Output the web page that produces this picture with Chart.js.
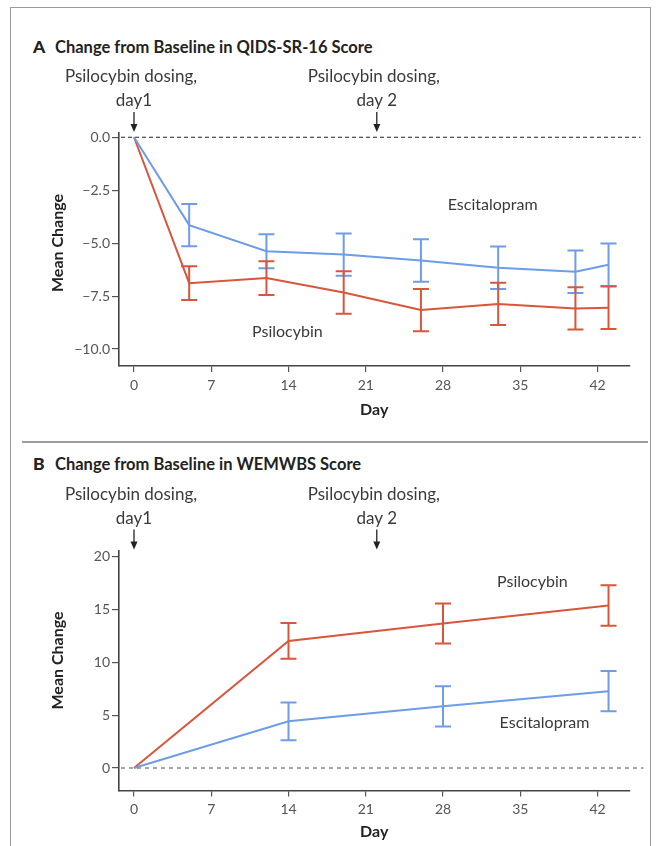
<!DOCTYPE html>
<html><head><meta charset="utf-8">
<script src="https://cdn.jsdelivr.net/npm/chart.js@4/dist/chart.umd.min.js"></script>
<style>
html,body{margin:0;padding:0;background:#fff;}
#wrap{position:relative;width:661px;height:846px;overflow:hidden;font-family:Lato,"Open Sans",sans-serif;color:#333;}
.frame{position:absolute;left:10px;top:7px;width:639px;height:900px;border:1.5px solid #9a9a9a;}
.sep{position:absolute;left:22px;top:441px;width:626px;height:2px;background:#9c9c9c;}
.ttl{position:absolute;left:33px;font-weight:bold;font-size:16.5px;color:#222;white-space:nowrap;line-height:20px;}
.ttl b{display:inline-block;width:22px;font-size:17.5px;}
canvas{position:absolute;left:0;}
</style></head>
<body><div id="wrap">
<div class="frame"></div>
<div class="sep"></div>
<div class="ttl" style="top:37px"><b>A</b>Change from Baseline in QIDS-SR-16 Score</div>
<div class="ttl" style="top:454px"><b>B</b>Change from Baseline in WEMWBS Score</div>
<canvas id="c1" width="661" height="440" style="top:0"></canvas>
<canvas id="c2" width="661" height="406" style="top:440px"></canvas>
</div>
<script>
// ---- Data ----
const dayTicks = [0, 7, 14, 21, 28, 35, 42];
const dosingDays = [0, 22];
const dosingLabel = ['Psilocybin dosing,'];
const dosingSub = ['day1', 'day 2'];

// Panel A: QIDS-SR-16
const qDays = [0, 5, 12, 19, 26, 33, 40, 43];
const qEsc = [0, -4.15, -5.38, -5.54, -5.82, -6.16, -6.35, -6.02];
const qEscErr = [0, 1.0, 0.8, 1.0, 1.0, 1.0, 1.0, 1.0];
const qPsi = [0, -6.89, -6.65, -7.33, -8.16, -7.87, -8.08, -8.05];
const qPsiErr = [0, 0.8, 0.8, 1.0, 1.0, 1.0, 1.0, 1.0];
const qTicks = [-10, -7.5, -5, -2.5, 0];

// Panel B: WEMWBS
const wDays = [0, 14, 28, 43];
const wPsi = [0, 12.04, 13.69, 15.39];
const wPsiErr = [0, 1.7, 1.9, 1.92];
const wEsc = [0, 4.42, 5.84, 7.28];
const wEscErr = [0, 1.78, 1.9, 1.9];
const wTicks = [0, 5, 10, 15, 20];

const RED = '#d9553b';
const BLUE = '#6d9ce8';
const FONT = 'Lato, "Open Sans", sans-serif';

const annot = {
  id: 'annot',
  beforeDatasetsDraw(chart, args, o) {
    const {ctx, chartArea, scales} = chart;
    const y0 = scales.y.getPixelForValue(0);
    ctx.save();
    ctx.strokeStyle = o.zeroColor;
    ctx.lineWidth = o.zeroWidth;
    ctx.setLineDash(o.zeroDash);
    ctx.beginPath();
    ctx.moveTo(chartArea.left + 2, y0);
    ctx.lineTo(chartArea.right + o.zeroExtend, y0);
    ctx.stroke();
    ctx.restore();
  },
  afterDatasetsDraw(chart, args, o) {
    const {ctx, chartArea, scales} = chart;
    const xs = scales.x, ys = scales.y;
    ctx.save();
    // error bars
    chart.data.datasets.forEach((ds, i) => {
      const err = o.errs[i];
      ctx.strokeStyle = ds.borderColor;
      ctx.lineWidth = 2;
      ds.data.forEach((p, j) => {
        if (!err[j]) return;
        const x = xs.getPixelForValue(p.x);
        const yt = ys.getPixelForValue(p.y + err[j]);
        const yb = ys.getPixelForValue(p.y - err[j]);
        ctx.beginPath();
        ctx.moveTo(x, yt); ctx.lineTo(x, yb);
        ctx.moveTo(x - 8, yt); ctx.lineTo(x + 8, yt);
        ctx.moveTo(x - 8, yb); ctx.lineTo(x + 8, yb);
        ctx.stroke();
      });
    });
    // dosing arrows
    ctx.strokeStyle = '#222';
    ctx.font = '17px ' + FONT;
    ctx.textAlign = 'center';
    ctx.textBaseline = 'middle';
    dosingDays.forEach((d, k) => {
      const x = xs.getPixelForValue(d);
      const tip = chartArea.top - 1;
      ctx.lineWidth = 1.3;
      ctx.beginPath();
      ctx.moveTo(x, tip - 20); ctx.lineTo(x, tip - 7);
      ctx.stroke();
      ctx.fillStyle = '#222';
      ctx.beginPath();
      ctx.moveTo(x - 3.5, tip - 8); ctx.lineTo(x + 3.5, tip - 8); ctx.lineTo(x, tip);
      ctx.closePath(); ctx.fill();
      ctx.fillStyle = '#3a3a3a';
      ctx.fillText(dosingLabel[0], x - 3, tip - 55);
      ctx.fillText(dosingSub[k], x, tip - 31);
    });
    // series labels
    ctx.font = '16px ' + FONT;
    o.labels.forEach(l => {
      ctx.fillText(l.text, xs.getPixelForValue(l.x), ys.getPixelForValue(l.y));
    });
    // y axis title
    ctx.save();
    ctx.translate(58, chartArea.top + 110);
    ctx.rotate(-Math.PI / 2);
    ctx.font = 'bold 16px ' + FONT;
    ctx.fillStyle = '#222';
    ctx.fillText(o.yTitle, 0, 0);
    ctx.restore();
    ctx.restore();
  }
};

function makeChart(id, cfg) {
  const tickFont = {family: FONT, size: 14};
  return new Chart(document.getElementById(id), {
    type: 'line',
    data: {
      datasets: cfg.series.map(s => ({
        data: s.days.map((d, i) => ({x: d, y: s.vals[i]})),
        borderColor: s.color,
        backgroundColor: s.color,
        borderWidth: 2,
        pointRadius: 0,
        tension: 0,
        fill: false
      }))
    },
    options: {
      responsive: false,
      animation: false,
      events: [],
      layout: {padding: {left: 0, right: 31.5, top: cfg.padTop, bottom: 0}},
      plugins: {
        legend: {display: false},
        tooltip: {enabled: false},
        annot: cfg.annot
      },
      scales: {
        x: {
          type: 'linear',
          min: -1.36, max: 44.9,
          afterFit: s => { s.height = cfg.xHeight; },
          afterBuildTicks: s => { s.ticks = dayTicks.map(v => ({value: v})); },
          grid: {drawOnChartArea: false, drawTicks: true, tickLength: 6, color: '#555', lineWidth: 1.2},
          border: {color: '#444', width: 1.6},
          ticks: {padding: 5, color: '#555', font: tickFont, maxRotation: 0, autoSkip: false},
          title: {display: true, text: 'Day', color: '#222', font: {family: FONT, size: 16, weight: 'bold'}, padding: {top: 0, bottom: cfg.dayPad}}
        },
        y: {
          min: cfg.yMin, max: cfg.yMax,
          afterFit: s => { s.width = 119; },
          afterBuildTicks: s => { s.ticks = cfg.yTicks.map(v => ({value: v})); },
          grid: {drawOnChartArea: false, drawTicks: true, tickLength: 7, color: '#555', lineWidth: 1.2},
          border: {color: '#444', width: 1.6},
          ticks: {padding: 2, color: '#555', font: tickFont, callback: cfg.fmt, autoSkip: false},
          title: {display: false}
        }
      }
    },
    plugins: [annot]
  });
}

makeChart('c1', {
  series: [
    {days: qDays, vals: qEsc, color: BLUE},
    {days: qDays, vals: qPsi, color: RED}
  ],
  padTop: 133, xHeight: 74, dayPad: 21,
  yMin: -10.8, yMax: 0.2, yTicks: qTicks,
  fmt: v => v === 0 ? '0.0' : '\u2212' + Math.abs(v).toFixed(1),
  annot: {
    errs: [qEscErr, qPsiErr], yTitle: 'Mean Change',
    zeroColor: '#222', zeroWidth: 1.2, zeroDash: [4, 3], zeroExtend: 11,
    labels: [{text: 'Escitalopram', x: 32.5, y: -3.2}, {text: 'Psilocybin', x: 13.9, y: -9.2}]
  }
});

makeChart('c2', {
  series: [
    {days: wDays, vals: wEsc, color: BLUE},
    {days: wDays, vals: wPsi, color: RED}
  ],
  padTop: 110.5, xHeight: 55.6, dayPad: 5,
  yMin: -2.12, yMax: 20.6, yTicks: wTicks,
  fmt: v => String(v),
  annot: {
    errs: [wEscErr, wPsiErr], yTitle: 'Mean Change',
    zeroColor: '#8a8a8a', zeroWidth: 1.5, zeroDash: [4, 4], zeroExtend: 14,
    labels: [{text: 'Psilocybin', x: 36.1, y: 17.6}, {text: 'Escitalopram', x: 37.2, y: 4.26}]
  }
});
</script>
</body></html>
